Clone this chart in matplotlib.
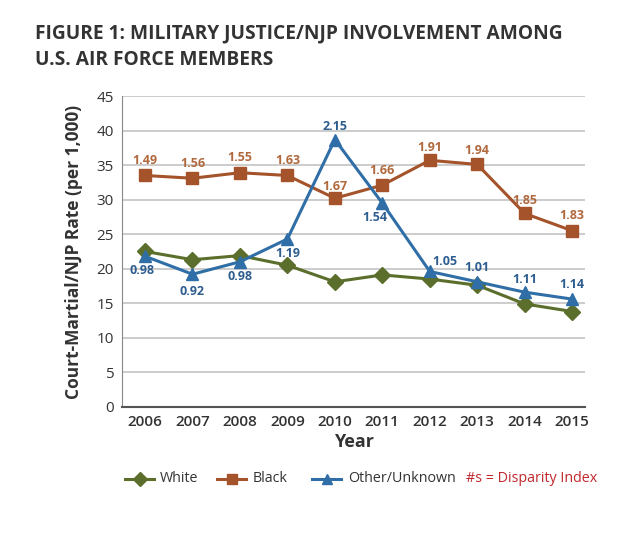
import matplotlib.pyplot as plt
from matplotlib.lines import Line2D

plt.rcParams['font.family'] = ['Open Sans', 'DejaVu Sans']

# data
years = [2006, 2007, 2008, 2009, 2010, 2011, 2012, 2013, 2014, 2015]
white = [22.5, 21.3, 21.9, 20.5, 18.1, 19.1, 18.5, 17.6, 14.9, 13.8]
black = [33.5, 33.1, 33.9, 33.5, 30.2, 32.1, 35.7, 35.1, 28.0, 25.5]
other = [21.8, 19.2, 21.0, 24.3, 38.7, 29.5, 19.6, 18.1, 16.6, 15.6]
black_idx = ["1.49", "1.56", "1.55", "1.63", "1.67", "1.66", "1.91", "1.94", "1.85", "1.83"]
other_idx = ["0.98", "0.92", "0.98", "1.19", "2.15", "1.54", "1.05", "1.01", "1.11", "1.14"]
series_names = ["White", "Black", "Other/Unknown"]

c_white = "#5b6e2b"
c_black = "#a4532b"
c_other = "#2f6ea6"
c_black_lbl = "#b0683d"
c_other_lbl = "#2e5d8f"
c_text = "#333333"

fig = plt.figure(figsize=(6.4, 5.49), dpi=100)
ax = fig.add_axes([0.191, 0.259, 0.723, 0.566])

ax.plot(years, white, color=c_white, lw=2.2, marker="D", ms=8, zorder=3)
ax.plot(years, black, color=c_black, lw=2.2, marker="s", ms=8.5, zorder=3)
ax.plot(years, other, color=c_other, lw=2.2, marker="^", ms=9, zorder=4)

# disparity index labels (offsets in pixels, converted to points)
px = 0.72
black_off = [15, 15, 15, 15, 12, 15, 13, 14, 13, 15]
for x, y, s, dy in zip(years, black, black_idx, black_off):
    ax.annotate(s, (x, y), xytext=(0, dy * px), textcoords="offset points",
                ha="center", va="center", color=c_black_lbl,
                fontsize=9, fontweight="bold")

other_off = [(-3, -14), (0, -17), (0, -15), (0, -14), (0, 13),
             (-7, -14), (15, 10), (0, 14), (0, 13), (0, 15)]
for x, y, s, (dx, dy) in zip(years, other, other_idx, other_off):
    ax.annotate(s, (x, y), xytext=(dx * px, dy * px), textcoords="offset points",
                ha="center", va="center", color=c_other_lbl,
                fontsize=9, fontweight="bold")

ax.set_xlim(2005.52, 2015.27)
ax.set_ylim(0, 45)
ax.set_yticks(range(0, 46, 5))
ax.set_xticks(years)
ax.yaxis.grid(True, color="#c4c4c4", lw=1.2)
ax.set_axisbelow(True)
for sp in ["top", "right"]:
    ax.spines[sp].set_visible(False)
ax.spines["left"].set_color("#888888")
ax.spines["bottom"].set_color("#555555")
ax.spines["bottom"].set_linewidth(1.5)
ax.tick_params(length=0, labelsize=11, colors=c_text, pad=6)
for lbl in ax.get_xticklabels():
    lbl.set_fontweight("semibold")

ax.set_xlabel("Year", fontsize=13, fontweight="bold", color=c_text, labelpad=3)
ax.set_ylabel("Court-Martial/NJP Rate (per 1,000)", fontsize=12.5,
              fontweight="bold", color=c_text, labelpad=10)

fig.text(0.055, 0.957, "FIGURE 1: MILITARY JUSTICE/NJP INVOLVEMENT AMONG\nU.S. AIR FORCE MEMBERS",
         fontsize=13.8, fontweight="bold", color=c_text, va="top", ha="left",
         linespacing=1.4)

# legend drawn by hand in figure pixels to match the spacing
W, H = 640, 549
ly = 1 - 479 / H
legend_items = [
    (series_names[0], c_white, "D", 7, 125, 154, 160),
    (series_names[1], c_black, "s", 7, 217, 246, 253),
    (series_names[2], c_other, "^", 7.5, 312, 341, 348),
]
for name, col, mk, ms, x0, x1, tx in legend_items:
    fig.add_artist(Line2D([x0 / W, x1 / W], [ly, ly], color=col, lw=2.2,
                          transform=fig.transFigure))
    fig.add_artist(Line2D([(x0 + x1) / 2 / W], [ly], color=col, marker=mk, ms=ms,
                          transform=fig.transFigure))
    fig.text(tx / W, ly, name, fontsize=10.3, color=c_text, va="center", ha="left")
fig.text(466 / W, ly, "#s = Disparity Index", color="#c0282d", fontsize=10.3,
         va="center", ha="left")

fig.savefig("out.png", dpi=100)
